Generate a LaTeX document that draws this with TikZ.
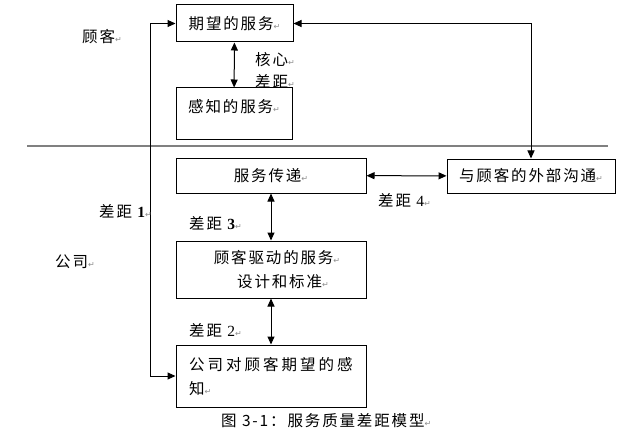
\documentclass[tikz,border=0pt]{standalone}
\usepackage{fontspec}
\setmainfont{Liberation Serif}
\newfontfamily\cjk[LetterSpace=12]{Noto Sans CJK SC}
\newfontfamily\symf{DejaVu Sans}
\usetikzlibrary{arrows.meta}
\newcommand{\pmk}{{\symf\fontsize{8}{8}\selectfont\textcolor{black!45}{↵}}}
\newcommand{\gp}{\hspace{3pt}}
\tikzset{
  box/.style={draw=black, line width=1pt, inner sep=0pt},
  lbl/.style={font=\cjk\fontsize{15.5}{24}\selectfont, inner sep=0pt},
  conn/.style={line width=1pt, {Triangle[length=8pt,width=7pt]}-{Triangle[length=8pt,width=7pt]}},
}
\begin{document}
\begin{tikzpicture}[x=1pt,y=-1pt]
\useasboundingbox (0,0) rectangle (637,433);
% boxes
\node[box, minimum width=117pt, minimum height=37pt, lbl] (qw) at (234.5,23.5) {期望的服务\pmk};
\node[box, minimum width=116pt, minimum height=52pt] (gz) at (234,114) {};
\node[lbl, anchor=west] (gzt) at (188,107) {感知的服务\pmk};
\node[box, minimum width=190pt, minimum height=35pt, lbl] (fw) at (271,175.5) {服务传递\pmk};
\node[box, minimum width=168pt, minimum height=34pt, lbl] (wb) at (531,176) {与顾客的外部沟通\pmk};
\node[box, minimum width=190pt, minimum height=57pt, lbl, align=center] (gk) at (271,269.5) {\hspace{12pt}顾客驱动的服务\pmk\\\hspace{24pt}设计和标准\pmk};
\node[box, minimum width=190pt, minimum height=62pt] (gs) at (271,376) {};
\node[lbl, anchor=west] (gst1) at (189,365) {公\gp 司\gp 对\gp 顾\gp 客\gp 期\gp 望\gp 的\gp 感};
\node[lbl, anchor=west] (gst2) at (189,389) {知\pmk};
% gray divider
\coordinate (gl) at (27,146);
\coordinate (gr) at (608,146);
\draw[line width=1.8pt, black!50] (gl) -- (gr);
% connectors
\draw[conn] (qw) -- (gz);
\draw[conn] (fw) -- (gk);
\draw[conn] (gk) -- (gs);
\draw[conn] (fw) -- (wb);
\draw[conn] (qw.east) -| (wb.north);
\coordinate (lt) at (150,23.5);
\coordinate (lb) at (150,376);
\draw[conn] (qw.west) -- (lt) -- (lb) -- (gs.west);
% labels
\node[lbl, anchor=west] (gk1) at (82,37) {顾客\pmk};
\node[lbl, anchor=west] (hx) at (255,60) {核心\pmk};
\node[lbl, anchor=west] (cj) at (255,81) {差距\pmk};
\node[lbl, anchor=west] (cj1) at (99,211) {差距 {\rmfamily\bfseries 1}\pmk};
\node[lbl, anchor=west] (gs0) at (55,262) {公司\pmk};
\node[lbl, anchor=west] (cj3) at (189,223) {差距 {\rmfamily\bfseries 3}\pmk};
\node[lbl, anchor=west] (cj2) at (189,330) {差距 {\rmfamily 2}\pmk};
\node[lbl, anchor=west] (cj4) at (378,200) {差距 {\rmfamily 4}\pmk};
\node[lbl, anchor=west] (cap) at (221,421) {图 3-1：服务质量差距模型\pmk};
\end{tikzpicture}
\end{document}
